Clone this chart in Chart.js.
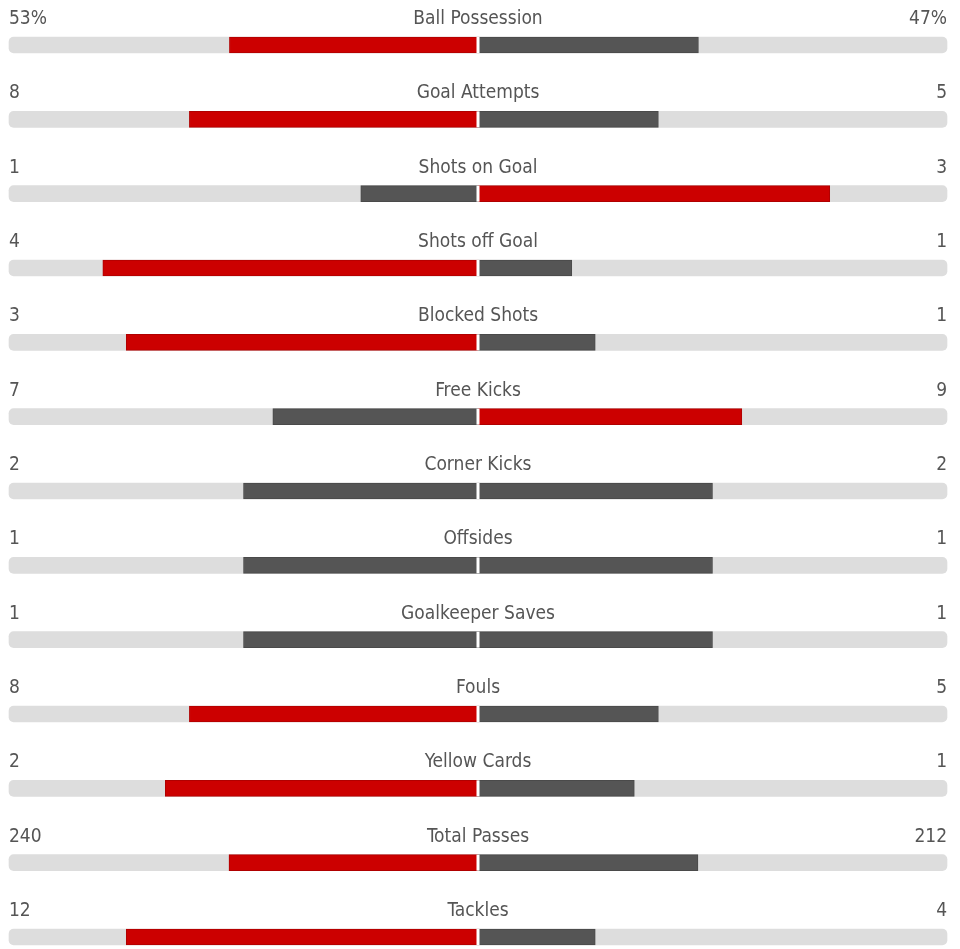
<!DOCTYPE html>
<html>
<head>
<meta charset="utf-8">
<script src="https://cdn.jsdelivr.net/npm/chart.js@4.4.1/dist/chart.umd.min.js"></script>
<style>
  html, body { margin: 0; padding: 0; background: #fff; }
  #wrap { width: 960px; height: 949px; position: relative; }
</style>
</head>
<body>
<div id="wrap"><canvas id="stats"></canvas></div>
<script>
// ===== DADOS =====
const categorias = ["Ball Possession","Goal Attempts","Shots on Goal","Shots off Goal","Blocked Shots",
  "Free Kicks","Corner Kicks","Offsides","Goalkeeper Saves","Fouls","Yellow Cards","Total Passes","Tackles"];
const casa = [53, 8, 1, 4, 3, 7, 2, 1, 1, 8, 2, 240, 12];
const fora = [47, 5, 3, 1, 1, 9, 2, 1, 1, 5, 1, 212, 4];
const rotuloCasa = ["53%","8","1","4","3","7","2","1","1","8","2","240","12"];
const rotuloFora = ["47%","5","3","1","1","9","2","1","1","5","1","212","4"];

// ===== CORES =====
const VERMELHO = "#cc0000", CINZA = "#555555", TRILHO = "#dddddd", TEXTO = "#555555";
const FONTE = "19px 'DejaVu Sans Condensed', 'DejaVu Sans', sans-serif";

// fração de cada lado no total da linha
const parteCasa = casa.map((v,i)=>v/(v+fora[i]));
const parteFora = fora.map((v,i)=>v/(v+casa[i]));
const corCasa = casa.map((v,i)=>v>fora[i] ? VERMELHO : CINZA);
const corFora = fora.map((v,i)=>v>casa[i] ? VERMELHO : CINZA);
const bordaCasa = casa.map((v,i)=>v>fora[i] ? "#b00000" : "#4a4a4a");
const bordaFora = fora.map((v,i)=>v>casa[i] ? "#b00000" : "#4a4a4a");

// textos e separador central
const textos = {
  id: "textos",
  afterDatasetsDraw(chart){
    const {ctx, scales:{x, y}} = chart;
    const cx = x.getPixelForValue(0);
    ctx.save();
    ctx.font = FONTE;
    ctx.textBaseline = "alphabetic";
    categorias.forEach((c,i)=>{
      const cy = y.getPixelForValue(i);
      // separador branco no meio
      ctx.fillStyle = "#ffffff";
      ctx.fillRect(cx-1.5, cy-8, 3, 16);
      ctx.fillStyle = TEXTO;
      const by = cy - 21;
      ctx.textAlign = "left";
      ctx.fillText(rotuloCasa[i], x.left, by);
      ctx.textAlign = "center";
      ctx.fillText(c, cx, by);
      ctx.textAlign = "right";
      ctx.fillText(rotuloFora[i], x.right, by);
    });
    ctx.restore();
  }
};

new Chart(document.getElementById("stats"), {
  type: "bar",
  data: {
    labels: categorias,
    datasets: [
      { label:"casa", data: parteCasa.map(v=>-v), backgroundColor: corCasa, borderColor: bordaCasa,
        borderWidth: 1, borderSkipped: false, grouped: false, barThickness: 16, order: 1, clip: false },
      { label:"fora", data: parteFora, backgroundColor: corFora, borderColor: bordaFora,
        borderWidth: 1, borderSkipped: false, grouped: false, barThickness: 16, order: 1, clip: false },
      { label:"trilho", data: categorias.map(()=>[-1, 1]), backgroundColor: TRILHO,
        borderRadius: 5, borderSkipped: false, grouped: false, barThickness: 16, order: 3, clip: false }
    ]
  },
  options: {
    indexAxis: "y",
    responsive: true,
    maintainAspectRatio: false,
    animation: false,
    layout: { padding: { left: 9, right: 13, top: 45, bottom: 12 } },
    plugins: { legend: { display: false }, tooltip: { enabled: false } },
    scales: {
      x: { min: -1, max: 1, display: false },
      y: { display: false, offset: false }
    }
  },
  plugins: [textos]
});
</script>
</body>
</html>
